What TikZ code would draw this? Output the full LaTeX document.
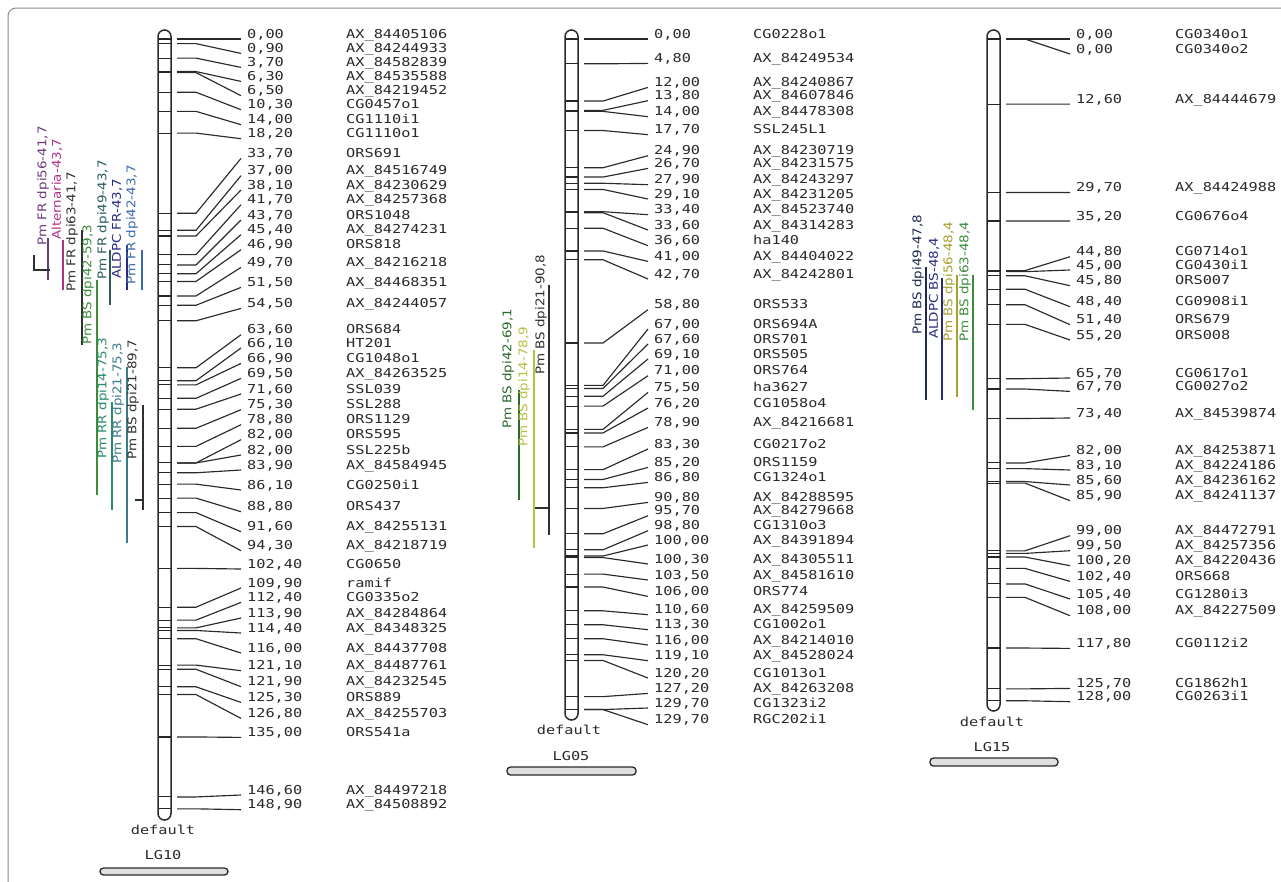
\documentclass[tikz,border=0pt]{standalone}
\usepackage{fontspec}
\newfontfamily\monof[FakeStretch=1.24]{DejaVu Sans Mono}
\newfontfamily\qf[FakeStretch=1.12]{DejaVu Sans}
\definecolor{ink}{HTML}{2A2A2A}
\definecolor{qpurple}{HTML}{6A3A80}
\definecolor{qmag}{HTML}{B0308A}
\definecolor{qdark}{HTML}{303030}
\definecolor{qgreen}{HTML}{3C8C3C}
\definecolor{qdteal}{HTML}{2A5A5A}
\definecolor{qnavy}{HTML}{2A2A80}
\definecolor{qblue}{HTML}{3A6AB0}
\definecolor{qgteal}{HTML}{2A8A6A}
\definecolor{qteal}{HTML}{3A7A8A}
\definecolor{qdgreen}{HTML}{2A6A2A}
\definecolor{qyel}{HTML}{B8C040}
\definecolor{qolive}{HTML}{A8A030}
\definecolor{qdnavy}{HTML}{1E2A50}
\tikzset{
  chrom/.style={draw=ink,line width=1.5,fill=white,rounded corners=6.5pt},
  tickm/.style={draw=black!85,line width=1.1},
  conn/.style={draw=ink,line width=1.15},
  val/.style={font=\monof\fontsize{12.3}{12}\selectfont,text=ink,inner sep=0pt},
  nm/.style={font=\monof\fontsize{12.3}{12}\selectfont,text=ink,inner sep=0pt},
  qbar/.style={line width=1.5},
  qlab/.style={font=\qf\fontsize{12}{12}\selectfont,inner sep=0pt},
  hbar/.style={draw=ink,line width=1.3,fill=black!12,rounded corners=3.5pt},
  frame/.style={draw=black!45,line width=1,rounded corners=8pt}
}
\newcommand\mrk[7]{%
  \pgfmathsetmacro\my{39+5.17*#4}%
  \draw[tickm] (#3,\my) -- (#3+13,\my);
  \coordinate (#1s#2) at (#3+19,\my);
  \coordinate (#1b#2) at (#3+38,\my);
  \coordinate (#1e#2) at (#3+83,#5);
  \node[val,anchor=base west] (#1v#2) at (#3+89,#5-1) {#6};
  \node[nm,anchor=base west] (#1n#2) at (#3+188,#5-1) {#7};
  \draw[conn] (#1s#2) -- (#1b#2) -- (#1e#2);
}
\newcommand\qtl[8]{%
  \coordinate (#1t) at (#3,#4);
  \coordinate (#1b) at (#3,#5);
  \draw[qbar,#2] (#1t) -- (#1b);
  \node[qlab,text=#2,anchor=west,rotate=90] (#1l) at (#6,#7) {#8};
}
\begin{document}
\begin{tikzpicture}[x=1pt,y=-1pt]
\useasboundingbox (0,0) rectangle (1281,881);
\fill[white] (0,0) rectangle (1281,881);
\draw[frame] (8,8) rectangle (1290,900);

% ---------- LG10 ----------
\draw[chrom] (158,30) rectangle (171,820);
\mrk{a}{1}{158}{0.00}{39}{0,00}{AX\_84405106}
\mrk{a}{2}{158}{0.90}{53.4}{0,90}{AX\_84244933}
\mrk{a}{3}{158}{3.70}{67.4}{3,70}{AX\_84582839}
\mrk{a}{4}{158}{6.30}{81.4}{6,30}{AX\_84535588}
\mrk{a}{5}{158}{6.50}{95.7}{6,50}{AX\_84219452}
\mrk{a}{6}{158}{10.30}{109.7}{10,30}{CG0457o1}
\mrk{a}{7}{158}{14.00}{124.7}{14,00}{CG1110i1}
\mrk{a}{8}{158}{18.20}{138.7}{18,20}{CG1110o1}
\mrk{a}{9}{158}{33.70}{158.4}{33,70}{ORS691}
\mrk{a}{10}{158}{37.00}{175.7}{37,00}{AX\_84516749}
\mrk{a}{11}{158}{38.10}{190}{38,10}{AX\_84230629}
\mrk{a}{12}{158}{41.70}{204.7}{41,70}{AX\_84257368}
\mrk{a}{13}{158}{43.70}{220}{43,70}{ORS1048}
\mrk{a}{14}{158}{45.40}{234.7}{45,40}{AX\_84274231}
\mrk{a}{15}{158}{46.90}{249.7}{46,90}{ORS818}
\mrk{a}{16}{158}{49.70}{267.4}{49,70}{AX\_84216218}
\mrk{a}{17}{158}{51.50}{287.4}{51,50}{AX\_84468351}
\mrk{a}{18}{158}{54.50}{308.4}{54,50}{AX\_84244057}
\mrk{a}{19}{158}{63.60}{334.7}{63,60}{ORS684}
\mrk{a}{20}{158}{66.10}{348}{66,10}{HT201}
\mrk{a}{21}{158}{66.90}{363.4}{66,90}{CG1048o1}
\mrk{a}{22}{158}{69.50}{378.4}{69,50}{AX\_84263525}
\mrk{a}{23}{158}{71.60}{394}{71,60}{SSL039}
\mrk{a}{24}{158}{75.30}{409.7}{75,30}{SSL288}
\mrk{a}{25}{158}{78.80}{424.7}{78,80}{ORS1129}
\mrk{a}{26}{158}{82.00}{439.7}{82,00}{ORS595}
\mrk{a}{27}{158}{82.00}{455}{82,00}{SSL225b}
\mrk{a}{28}{158}{83.90}{470}{83,90}{AX\_84584945}
\mrk{a}{29}{158}{86.10}{490}{86,10}{CG0250i1}
\mrk{a}{30}{158}{88.80}{511.7}{88,80}{ORS437}
\mrk{a}{31}{158}{91.60}{531.7}{91,60}{AX\_84255131}
\mrk{a}{32}{158}{94.30}{550.7}{94,30}{AX\_84218719}
\mrk{a}{33}{158}{102.40}{569}{102,40}{CG0650}
\mrk{a}{34}{158}{109.90}{588}{109,90}{ramif}
\mrk{a}{35}{158}{112.40}{602.4}{112,40}{CG0335o2}
\mrk{a}{36}{158}{113.90}{618}{113,90}{AX\_84284864}
\mrk{a}{37}{158}{114.40}{633}{114,40}{AX\_84348325}
\mrk{a}{38}{158}{116.00}{653}{116,00}{AX\_84437708}
\mrk{a}{39}{158}{121.10}{670.7}{121,10}{AX\_84487761}
\mrk{a}{40}{158}{121.90}{686.7}{121,90}{AX\_84232545}
\mrk{a}{41}{158}{125.30}{702.4}{125,30}{ORS889}
\mrk{a}{42}{158}{126.80}{718.4}{126,80}{AX\_84255703}
\mrk{a}{43}{158}{135.00}{737.4}{135,00}{ORS541a}
\mrk{a}{44}{158}{146.60}{795}{146,60}{AX\_84497218}
\mrk{a}{45}{158}{148.90}{809.7}{148,90}{AX\_84508892}
\node[val] (adef) at (163,830) {default};
\node[val] (aname) at (163,855) {LG10};
\draw[hbar] (100,868) rectangle (228,875);

% LG10 QTLs
\qtl{qa1}{qpurple}{48}{238}{280}{43}{246}{Pm FR dpi56-41,7}
\qtl{qa2}{qmag}{63}{240}{290}{57}{240}{Alternaria-43,7}
\qtl{qa3}{qdark}{82}{230}{345}{72}{292}{Pm FR dpi63-41,7}
\qtl{qa4}{qgreen}{97}{280}{495}{88}{345}{Pm BS dpi42-59,3}
\qtl{qa5}{qdteal}{110}{250}{305}{103}{280}{Pm FR dpi49-43,7}
\qtl{qa6}{qnavy}{127}{245}{290}{117}{279}{ALDPC FR-43,7}
\qtl{qa7}{qblue}{142}{250}{290}{132}{285}{Pm FR dpi42-43,7}
\qtl{qa8}{qgteal}{112}{402}{510}{103}{459}{Pm RR dpi14-75,3}
\qtl{qa9}{qteal}{127}{367}{543}{118}{464}{Pm RR dpi21-75,3}
\qtl{qa10}{qdark}{143}{405}{510}{133}{460}{Pm BS dpi21-89,7}
\draw[qbar,qdark] (135,500) -- (qa10t|-0,500);
\draw[qbar,qdark] (34,255) -- (34,270) -- (50,270);

% ---------- LG05 ----------
\draw[chrom] (565,30) rectangle (578,720);
\mrk{b}{1}{565}{0.00}{39}{0,00}{CG0228o1}
\mrk{b}{2}{565}{4.80}{63.4}{4,80}{AX\_84249534}
\mrk{b}{3}{565}{12.00}{87.4}{12,00}{AX\_84240867}
\mrk{b}{4}{565}{13.80}{100.7}{13,80}{AX\_84607846}
\mrk{b}{5}{565}{14.00}{116.7}{14,00}{AX\_84478308}
\mrk{b}{6}{565}{17.70}{134.7}{17,70}{SSL245L1}
\mrk{b}{7}{565}{24.90}{155.7}{24,90}{AX\_84230719}
\mrk{b}{8}{565}{26.70}{168.4}{26,70}{AX\_84231575}
\mrk{b}{9}{565}{27.90}{184.7}{27,90}{AX\_84243297}
\mrk{b}{10}{565}{29.10}{199}{29,10}{AX\_84231205}
\mrk{b}{11}{565}{33.40}{214.7}{33,40}{AX\_84523740}
\mrk{b}{12}{565}{33.60}{230}{33,60}{AX\_84314283}
\mrk{b}{13}{565}{36.60}{245.7}{36,60}{ha140}
\mrk{b}{14}{565}{41.00}{261.4}{41,00}{AX\_84404022}
\mrk{b}{15}{565}{42.70}{279}{42,70}{AX\_84242801}
\mrk{b}{16}{565}{58.80}{309.7}{58,80}{ORS533}
\mrk{b}{17}{565}{67.00}{329}{67,00}{ORS694A}
\mrk{b}{18}{565}{67.60}{344}{67,60}{ORS701}
\mrk{b}{19}{565}{69.10}{359}{69,10}{ORS505}
\mrk{b}{20}{565}{71.00}{375.7}{71,00}{ORS764}
\mrk{b}{21}{565}{75.50}{392.4}{75,50}{ha3627}
\mrk{b}{22}{565}{76.20}{408}{76,20}{CG1058o4}
\mrk{b}{23}{565}{78.90}{427.4}{78,90}{AX\_84216681}
\mrk{b}{24}{565}{83.30}{449}{83,30}{CG0217o2}
\mrk{b}{25}{565}{85.20}{467.4}{85,20}{ORS1159}
\mrk{b}{26}{565}{86.80}{482.4}{86,80}{CG1324o1}
\mrk{b}{27}{565}{90.80}{502.4}{90,80}{AX\_84288595}
\mrk{b}{28}{565}{95.70}{515.7}{95,70}{AX\_84279668}
\mrk{b}{29}{565}{98.80}{530.7}{98,80}{CG1310o3}
\mrk{b}{30}{565}{100.00}{545}{100,00}{AX\_84391894}
\mrk{b}{31}{565}{100.30}{564}{100,30}{AX\_84305511}
\mrk{b}{32}{565}{103.50}{580}{103,50}{AX\_84581610}
\mrk{b}{33}{565}{106.00}{596.4}{106,00}{ORS774}
\mrk{b}{34}{565}{110.60}{614.7}{110,60}{AX\_84259509}
\mrk{b}{35}{565}{113.30}{629.7}{113,30}{CG1002o1}
\mrk{b}{36}{565}{116.00}{645}{116,00}{AX\_84214010}
\mrk{b}{37}{565}{119.10}{660.7}{119,10}{AX\_84528024}
\mrk{b}{38}{565}{120.20}{678}{120,20}{CG1013o1}
\mrk{b}{39}{565}{127.20}{693.4}{127,20}{AX\_84263208}
\mrk{b}{40}{565}{129.70}{708}{129,70}{CG1323i2}
\mrk{b}{41}{565}{129.70}{724.7}{129,70}{RGC202i1}
\node[val] (bdef) at (569,730) {default};
\node[val] (bname) at (571,756) {LG05};
\draw[hbar] (507,767) rectangle (636,775);

% LG05 QTLs
\qtl{qb1}{qdgreen}{519}{390}{500}{508}{429}{Pm BS dpi42-69,1}
\qtl{qb2}{qyel}{534}{350}{548}{524}{447}{Pm BS dpi14-78,9}
\qtl{qb3}{qdark}{549}{285}{535}{541}{375}{Pm BS dpi21-90,8}
\draw[qbar,qdark] (535,508) -- (qb3t|-0,508);

% ---------- LG15 ----------
\draw[chrom] (987,30) rectangle (1000,711);
\mrk{c}{1}{987}{0.00}{39}{0,00}{CG0340o1}
\mrk{c}{2}{987}{0.00}{54}{0,00}{CG0340o2}
\mrk{c}{3}{987}{12.60}{104.1}{12,60}{AX\_84444679}
\mrk{c}{4}{987}{29.70}{192.5}{29,70}{AX\_84424988}
\mrk{c}{5}{987}{35.20}{221}{35,20}{CG0676o4}
\mrk{c}{6}{987}{44.80}{256.7}{44,80}{CG0714o1}
\mrk{c}{7}{987}{45.00}{270}{45,00}{CG0430i1}
\mrk{c}{8}{987}{45.80}{285.7}{45,80}{ORS007}
\mrk{c}{9}{987}{48.40}{306.7}{48,40}{CG0908i1}
\mrk{c}{10}{987}{51.40}{324.7}{51,40}{ORS679}
\mrk{c}{11}{987}{55.20}{340}{55,20}{ORS008}
\mrk{c}{12}{987}{65.70}{378}{65,70}{CG0617o1}
\mrk{c}{13}{987}{67.70}{391.4}{67,70}{CG0027o2}
\mrk{c}{14}{987}{73.40}{418}{73,40}{AX\_84539874}
\mrk{c}{15}{987}{82.00}{455.5}{82,00}{AX\_84253871}
\mrk{c}{16}{987}{83.10}{470}{83,10}{AX\_84224186}
\mrk{c}{17}{987}{85.60}{485}{85,60}{AX\_84236162}
\mrk{c}{18}{987}{85.90}{500.7}{85,90}{AX\_84241137}
\mrk{c}{19}{987}{99.00}{535.7}{99,00}{AX\_84472791}
\mrk{c}{20}{987}{99.50}{550.7}{99,50}{AX\_84257356}
\mrk{c}{21}{987}{100.20}{565.7}{100,20}{AX\_84220436}
\mrk{c}{22}{987}{102.40}{581.4}{102,40}{ORS668}
\mrk{c}{23}{987}{105.40}{599}{105,40}{CG1280i3}
\mrk{c}{24}{987}{108.00}{615.7}{108,00}{AX\_84227509}
\mrk{c}{25}{987}{117.80}{648.4}{117,80}{CG0112i2}
\mrk{c}{26}{987}{125.70}{688.4}{125,70}{CG1862h1}
\mrk{c}{27}{987}{128.00}{701.7}{128,00}{CG0263i1}
\node[val] (cdef) at (992,722) {default};
\node[val] (cname) at (992,747) {LG15};
\draw[hbar] (930,758) rectangle (1058,766);

% LG15 QTLs
\qtl{qc1}{qdnavy}{926}{267}{400}{918}{335}{Pm BS dpi49-47,8}
\qtl{qc2}{qnavy}{942}{278}{400}{934}{339}{ALDPC BS-48,4}
\qtl{qc3}{qolive}{957}{275}{397}{949}{342}{Pm BS dpi56-48,4}
\qtl{qc4}{qgreen}{973}{275}{410}{965}{342}{Pm BS dpi63-48,4}
\end{tikzpicture}
\end{document}
